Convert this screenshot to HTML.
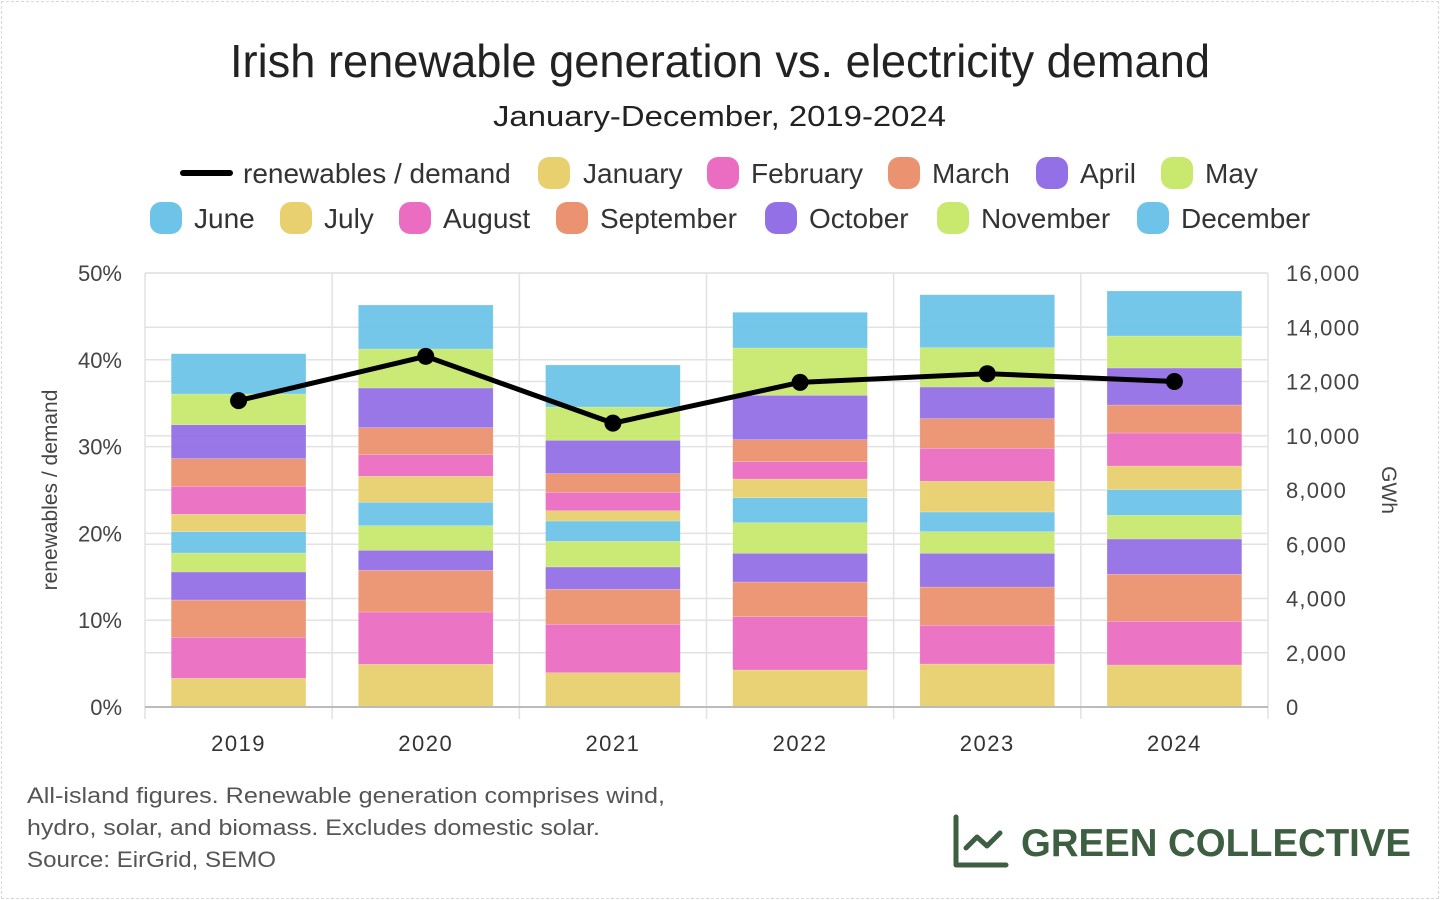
<!DOCTYPE html>
<html><head><meta charset="utf-8"><style>
body{margin:0;background:#fff;}
#wrap{position:relative;width:1440px;height:900px;overflow:hidden;font-family:"Liberation Sans",sans-serif;}
#frame{position:absolute;left:1px;top:1px;width:1436px;height:896px;border:1px dashed #d8d8d8;}
</style></head><body>
<div id="wrap">
<div id="frame"></div>
<svg id="chart" width="1440" height="900" style="position:absolute;left:0;top:0">
<text x="230" y="77" font-size="46" fill="#222" textLength="980" lengthAdjust="spacingAndGlyphs">Irish renewable generation vs. electricity demand</text>
<text x="493" y="126" font-size="29" fill="#222" textLength="453" lengthAdjust="spacingAndGlyphs">January-December, 2019-2024</text>
<g id="legend"></g>
<g id="grid"></g>
<g id="bars"></g>
<g id="axes"></g>
<g id="line"></g>
<text transform="translate(57,490) rotate(-90)" text-anchor="middle" font-size="21" fill="#444">renewables / demand</text>
<text transform="translate(1382,490) rotate(90)" text-anchor="middle" font-size="21" fill="#444">GWh</text>
<g font-size="22" fill="#555">
<text x="27" y="803" textLength="638" lengthAdjust="spacingAndGlyphs">All-island figures. Renewable generation comprises wind,</text>
<text x="27" y="835" textLength="573" lengthAdjust="spacingAndGlyphs">hydro, solar, and biomass. Excludes domestic solar.</text>
<text x="27" y="867" textLength="249" lengthAdjust="spacingAndGlyphs">Source: EirGrid, SEMO</text>
</g>
<g>
<path d="M956 817 L956 865 L1006 865" fill="none" stroke="#3d5e40" stroke-width="5" stroke-linecap="round" stroke-linejoin="round"/>
<path d="M966 848 L977 837 L987 846 L1000 833" fill="none" stroke="#3d5e40" stroke-width="5" stroke-linecap="round" stroke-linejoin="round"/>
<text x="1021" y="856" font-size="39" font-weight="bold" fill="#3d5e40" textLength="390" lengthAdjust="spacingAndGlyphs">GREEN COLLECTIVE</text>
</g>
</svg>
</div>
<script>
const years = ["2019","2020","2021","2022","2023","2024"];
const months = ["January","February","March","April","May","June","July","August","September","October","November","December"];
const gwh2019 = [1058,1512,1375,1032,700,787,641,1033,1017,1253,1131,1487];
const gwh2020 = [1574,1928,1538,737,907,863,958,797,995,1463,1438,1622];
const gwh2021 = [1264,1785,1291,822,947,748,380,679,685,1232,1227,1548];
const gwh2022 = [1364,1965,1279,1059,1128,922,688,639,811,1636,1744,1316];
const gwh2023 = [1585,1427,1412,1243,797,726,1132,1216,1092,1167,1450,1953];
const gwh2024 = [1548,1612,1733,1301,873,948,870,1216,1033,1364,1180,1658];
const ratio = [35.3,40.4,32.7,37.4,38.4,37.5];
const leftTicks = ["0%","10%","20%","30%","40%","50%"];
const rightTicks = ["0","2,000","4,000","6,000","8,000","10,000","12,000","14,000","16,000"];
const colors = ["#e8d06e","#eb6dc2","#eb9270","#9370e6","#c8e86e","#6ec4e8"];
const series = [gwh2019,gwh2020,gwh2021,gwh2022,gwh2023,gwh2024];
const NS="http://www.w3.org/2000/svg";
const X0=145,X1=1268,Y0=707,Y1=273;
const band=(X1-X0)/years.length;
const xc=i=>X0+band*(i+0.5);
const yG=v=>Y0-(v/16000)*(Y0-Y1);
const yP=v=>Y0-(v/50)*(Y0-Y1);
function mk(tag,attrs,parent){const e=document.createElementNS(NS,tag);for(const k in attrs)e.setAttribute(k,attrs[k]);parent.appendChild(e);return e;}
const grid=document.getElementById('grid'),axes=document.getElementById('axes'),bars=document.getElementById('bars'),line=document.getElementById('line'),legend=document.getElementById('legend');
leftTicks.forEach((t,i)=>{const v=i*10;const y=yP(v);
 const l=mk('line',{x1:X0,x2:X1,y1:y,y2:y,stroke:'#e2e2e2','stroke-width':1.5},grid);
 
 
 const tx=mk('text',{x:122,y:y+8,'text-anchor':'end','font-size':22,fill:'#444'},axes);tx.textContent=t;
 
 });
rightTicks.forEach((t,i)=>{const y=yG(i*2000);
 const l=mk('line',{x1:X0,x2:X1,y1:y,y2:y,stroke:'#e2e2e2','stroke-width':1.5},grid);
 
 
 const tx=mk('text',{x:1286,y:y+8,'font-size':22,fill:'#444','letter-spacing':1.2},axes);tx.textContent=t;
 
 });
for(let i=0;i<=years.length;i++){const x=X0+band*i;
 const l=mk('line',{x1:x,x2:x,y1:Y1,y2:Y0+12,stroke:'#e2e2e2','stroke-width':1.5},grid);
 
 }
const ax=mk('line',{x1:X0,x2:X1,y1:Y0,y2:Y0,stroke:'#bbb','stroke-width':2},axes);


const bw=band*0.72;
series.forEach((vals,i)=>{let cum=0;
 vals.forEach((v,m)=>{const yt=yG(cum+v),yb=yG(cum);cum+=v;
  const r=mk('rect',{x:xc(i)-bw/2,y:yt,width:bw,height:yb-yt,fill:colors[m%6],'fill-opacity':0.95,stroke:'#fff','stroke-opacity':0.35,'stroke-width':0.5},bars);
  
  });
 const tx=mk('text',{x:xc(i),y:751,'text-anchor':'middle','font-size':22,fill:'#333','letter-spacing':1.5},axes);tx.textContent=years[i];
 
 });
const pts=ratio.map((r,i)=>xc(i)+','+yP(r)).join(' ');
const pl=mk('polyline',{points:pts,fill:'none',stroke:'#000','stroke-width':5,'stroke-linejoin':'round'},line);


ratio.forEach((r,i)=>{const c=mk('circle',{cx:xc(i),cy:yP(r),r:8.5,fill:'#000'},line);
 
 });
const leg=[["line",183,243,173,"renewables / demand"],[0,538,583,173],[1,707,751,173],[2,888,932,173],[3,1036,1080,173],[4,1161,1205,173],
[5,150,194,218],[6,280,324,218],[7,399,443,218],[8,556,600,218],[9,765,809,218],[10,937,981,218],[11,1137,1181,218]];
leg.forEach(it=>{const g=mk('g',{},legend);
 
 
 let label;
 if(it[0]==="line"){mk('line',{x1:it[1],x2:it[1]+47,y1:it[3],y2:it[3],stroke:'#000','stroke-width':6,'stroke-linecap':'round'},g);label=it[4];}
 else{mk('rect',{x:it[1],y:it[3]-16,width:32,height:32,rx:11,fill:colors[it[0]%6]},g);label=months[it[0]];}
 const t=mk('text',{x:it[2],y:it[3]+10,'font-size':28,fill:'#333'},g);t.textContent=label;});
</script>
</body></html>
